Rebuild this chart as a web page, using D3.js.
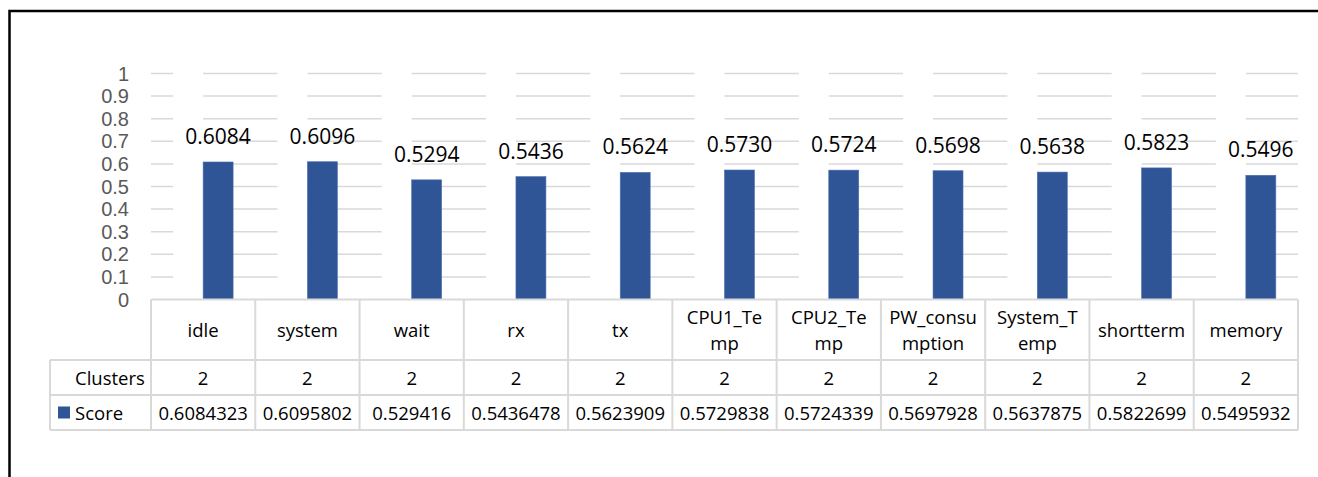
<!DOCTYPE html>
<html>
<head>
<meta charset="utf-8">
<script src="https://cdn.jsdelivr.net/npm/d3@7"></script>
<style>
  html, body { margin: 0; padding: 0; background: #fff; }
  svg { display: block; font-family: "Open Sans", sans-serif; }
</style>
</head>
<body>
<svg id="chart" width="1318" height="477"></svg>
<script>
// Metric names and the labels shown in the data table header (wrapped as in the table)
const categories = ["idle", "system", "wait", "rx", "tx", "CPU1_Temp", "CPU2_Temp",
  "PW_consumption", "System_Temp", "shortterm", "memory"];
const categoryLabels = ["idle", "system", "wait", "rx", "tx", "CPU1_Te\nmp", "CPU2_Te\nmp",
  "PW_consu\nmption", "System_T\nemp", "shortterm", "memory"];

// Series
const seriesNames = ["Clusters", "Score"];
const clusters = [2, 2, 2, 2, 2, 2, 2, 2, 2, 2, 2];
const score = [0.6084323, 0.6095802, 0.529416, 0.5436478, 0.5623909, 0.5729838,
  0.5724339, 0.5697928, 0.5637875, 0.5822699, 0.5495932];

// Axis ticks
const yTicks = [0, 0.1, 0.2, 0.3, 0.4, 0.5, 0.6, 0.7, 0.8, 0.9, 1];

const svg = d3.select("#chart");
const W = 1318, H = 477;

const plot = { left: 151, right: 1298, top: 62, zeroY: 299.5, oneY: 73.5 };
const gridColor = "#d9d9d9";
const barColor = "#2f5597";

const x0 = d3.scaleBand().domain(categories).range([plot.left, plot.right]).padding(0);
const x1 = d3.scaleBand().domain(seriesNames).range([0, x0.bandwidth()])
  .paddingInner(0).paddingOuter(0.74);
const y = d3.scaleLinear().domain([0, 1]).range([plot.zeroY, plot.oneY]);

// Outer frame
svg.append("path")
  .attr("d", `M9.5,${H} L9.5,11 L${W},11`)
  .attr("fill", "none").attr("stroke", "#000").attr("stroke-width", 2.5);

// Horizontal gridlines
svg.append("g").selectAll("line").data(yTicks.filter(t => t > 0)).join("line")
  .attr("x1", plot.left).attr("x2", plot.right)
  .attr("y1", d => y(d)).attr("y2", d => y(d))
  .attr("stroke", gridColor).attr("stroke-width", 1.5);

// Y axis tick labels
svg.append("g").selectAll("text").data(yTicks).join("text")
  .attr("x", 129).attr("y", d => y(d))
  .attr("text-anchor", "end").attr("dominant-baseline", "central")
  .attr("fill", "#595959").attr("font-size", 20)
  .attr("font-family", "'Liberation Sans', Arial, sans-serif")
  .text(d => d3.format("")(d));

// Bars, clipped to the plot area
svg.append("defs").append("clipPath").attr("id", "plotClip")
  .append("rect").attr("x", plot.left).attr("y", plot.top)
  .attr("width", plot.right - plot.left).attr("height", plot.zeroY - plot.top);

const rows = categories.map((c, i) => ({ cat: c, Clusters: clusters[i], Score: score[i] }));

const groups = svg.append("g").attr("clip-path", "url(#plotClip)")
  .selectAll("g").data(rows).join("g")
  .attr("transform", d => `translate(${x0(d.cat)},0)`);

groups.selectAll("rect").data(d => seriesNames.map(s => ({ s, v: d[s] }))).join("rect")
  .attr("x", d => x1(d.s))
  .attr("width", x1.bandwidth())
  .attr("y", d => y(d.v))
  .attr("height", d => y(0) - y(d.v))
  .attr("fill", d => d.s === "Score" ? barColor : "#ffffff")
  .attr("stroke", d => d.s === "Score" ? "#4a6fb0" : "none")
  .attr("stroke-width", 0.6);

// Data labels on Score bars
svg.append("g").selectAll("text").data(rows).join("text")
  .attr("x", d => x0(d.cat) + x1("Score") + x1.bandwidth() / 2)
  .attr("y", d => y(d.Score) - 26)
  .attr("text-anchor", "middle").attr("dominant-baseline", "central")
  .attr("font-size", 21).attr("fill", "#000")
  .text(d => d3.format(".4f")(d.Score));

// Data table
const rowTop = [299.5, 360, 395, 430];
const tableLeft = 50;
const table = svg.append("g").attr("stroke", gridColor).attr("stroke-width", 2);

table.append("line").attr("x1", plot.left).attr("x2", plot.right)
  .attr("y1", rowTop[0]).attr("y2", rowTop[0]);
[rowTop[1], rowTop[2], rowTop[3]].forEach(yy => {
  table.append("line").attr("x1", tableLeft).attr("x2", plot.right)
    .attr("y1", yy).attr("y2", yy);
});
table.append("line").attr("x1", tableLeft).attr("x2", tableLeft)
  .attr("y1", rowTop[1]).attr("y2", rowTop[3]);
const colEdges = categories.map(c => x0(c)).concat([plot.right]);
table.selectAll("line.col").data(colEdges).join("line").attr("class", "col")
  .attr("x1", d => d).attr("x2", d => d)
  .attr("y1", rowTop[0]).attr("y2", rowTop[3]);

const tfs = 18.5;
// Header row labels
const header = svg.append("g").selectAll("text").data(categories).join("text")
  .attr("text-anchor", "middle").attr("font-size", tfs).attr("fill", "#000")
  .attr("x", d => x0(d) + x0.bandwidth() / 2);
header.each(function(d, i) {
  const lines = categoryLabels[i].split("\n");
  const mid = (rowTop[0] + rowTop[1]) / 2;
  const lh = 26;
  lines.forEach((ln, k) => {
    d3.select(this).append("tspan")
      .attr("x", x0(d) + x0.bandwidth() / 2)
      .attr("y", mid + (k - (lines.length - 1) / 2) * lh)
      .attr("dominant-baseline", "central")
      .text(ln);
  });
});

// Clusters row
svg.append("text").attr("x", 75).attr("y", (rowTop[1] + rowTop[2]) / 2)
  .attr("dominant-baseline", "central").attr("font-size", tfs).text("Clusters");
svg.append("g").selectAll("text").data(rows).join("text")
  .attr("x", d => x0(d.cat) + x0.bandwidth() / 2).attr("y", (rowTop[1] + rowTop[2]) / 2)
  .attr("text-anchor", "middle").attr("dominant-baseline", "central")
  .attr("font-size", tfs).text(d => d.Clusters);

// Score row with legend key
const scoreMid = (rowTop[2] + rowTop[3]) / 2;
svg.append("rect").attr("x", 58).attr("y", scoreMid - 6).attr("width", 12).attr("height", 12)
  .attr("fill", barColor);
svg.append("text").attr("x", 75).attr("y", scoreMid)
  .attr("dominant-baseline", "central").attr("font-size", tfs).text("Score");
svg.append("g").selectAll("text").data(rows).join("text")
  .attr("x", d => x0(d.cat) + x0.bandwidth() / 2).attr("y", scoreMid)
  .attr("text-anchor", "middle").attr("dominant-baseline", "central")
  .attr("font-size", tfs).text(d => String(d.Score));
</script>
</body>
</html>
